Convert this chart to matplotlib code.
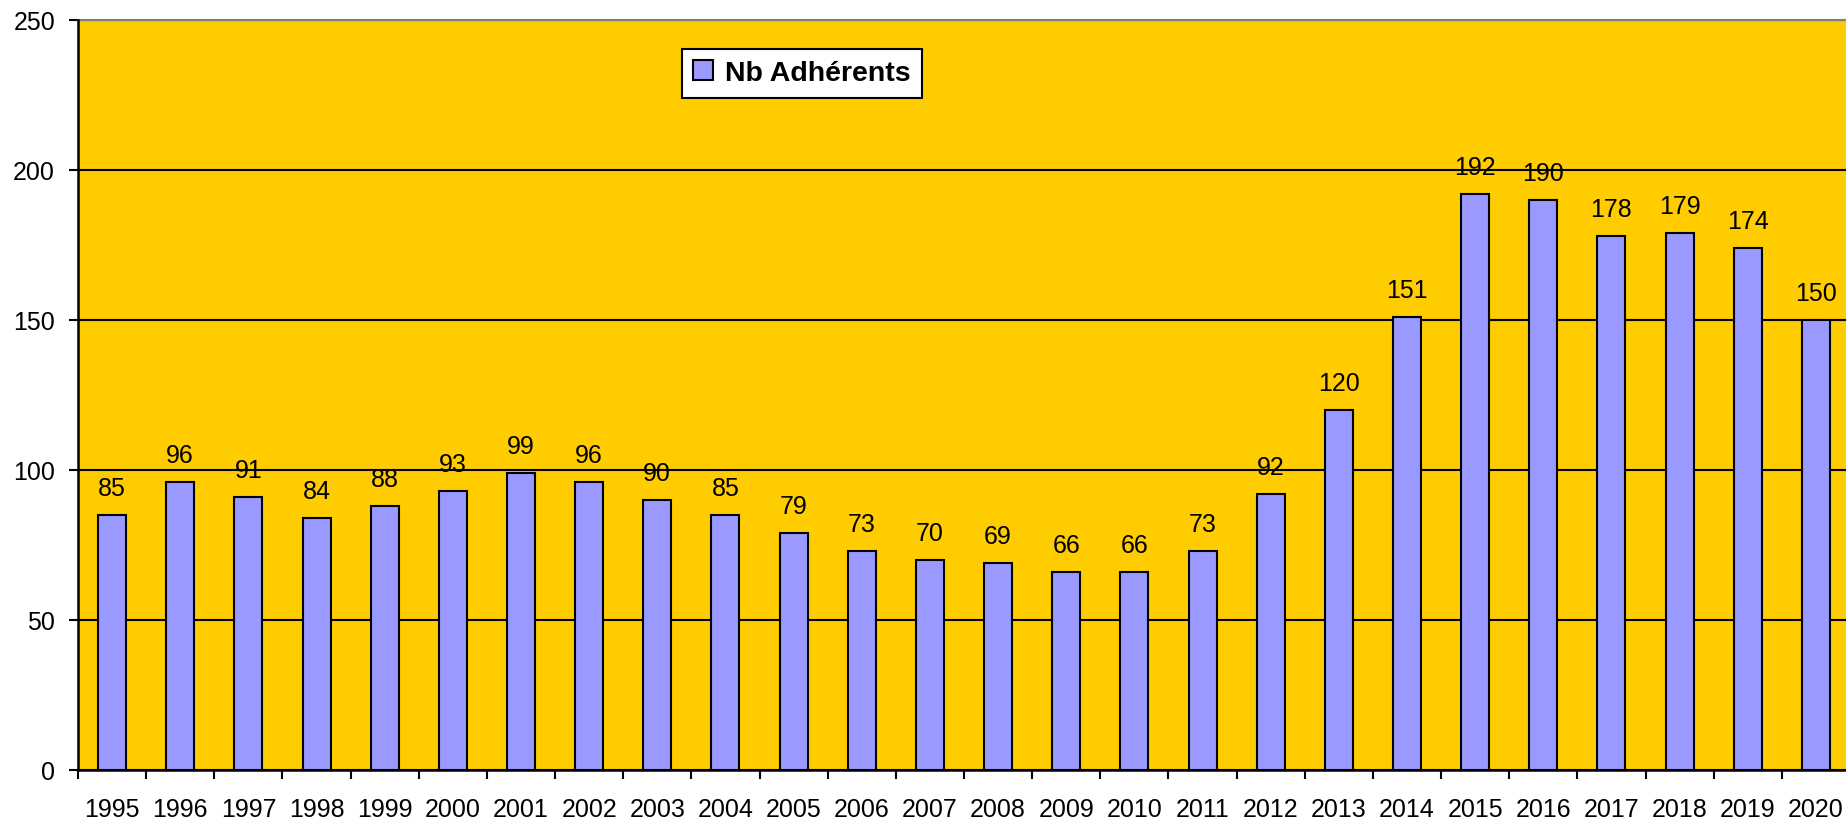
import matplotlib.pyplot as plt
from matplotlib.patches import Patch

plt.rcParams['font.family'] = ['Liberation Sans', 'DejaVu Sans']

# Données
annees = ['1995', '1996', '1997', '1998', '1999', '2000', '2001', '2002', '2003',
          '2004', '2005', '2006', '2007', '2008', '2009', '2010', '2011', '2012',
          '2013', '2014', '2015', '2016', '2017', '2018', '2019', '2020']
adherents = [85, 96, 91, 84, 88, 93, 99, 96, 90, 85, 79, 73, 70, 69, 66, 66, 73,
             92, 120, 151, 192, 190, 178, 179, 174, 150]
serie = 'Nb Adhérents'

W, H = 1846, 820
fig = plt.figure(figsize=(W / 100, H / 100), dpi=100)
ax = fig.add_axes([78 / W, 49 / H, 1772 / W, 750 / H])
ax.set_facecolor('#FFCC00')

x = list(range(len(annees)))
bars = ax.bar(x, adherents, width=0.41, color='#9999FF', edgecolor='black',
              linewidth=1.5, zorder=3)
ax.bar_label(bars, padding=10.5, fontsize=18)

ax.set_xlim(-0.5, len(annees) - 0.5)
ax.set_ylim(0, 250)
ax.set_yticks([0, 50, 100, 150, 200, 250])
ax.grid(axis='y', color='black', linewidth=1.5, zorder=1)

ax.set_xticks(x)
ax.set_xticklabels(annees)
ax.set_xticks([i - 0.5 for i in range(len(annees) + 1)], minor=True)
ax.tick_params(axis='x', which='major', length=0, pad=19.5, labelsize=18)
ax.tick_params(axis='x', which='minor', length=6.5, width=1.5, direction='out')
ax.tick_params(axis='y', length=6.5, width=1.5, pad=10, labelsize=18)

for s in ['left', 'bottom']:
    ax.spines[s].set_linewidth(1.8)
    ax.spines[s].set_zorder(4)
ax.spines['top'].set_color('#808080')
ax.spines['top'].set_linewidth(1.5)
ax.spines['right'].set_visible(False)

handle = Patch(facecolor='#9999FF', edgecolor='black', linewidth=1.5, label=serie)
leg = ax.legend(handles=[handle], loc='upper left',
                bbox_to_anchor=(682 / W, 1 - 50 / H), bbox_transform=fig.transFigure,
                borderaxespad=0, fancybox=False, framealpha=1, edgecolor='black',
                handlelength=0.7, handleheight=0.7, handletextpad=0.4,
                borderpad=0.4, prop={'weight': 'bold', 'size': 20.5})
leg.get_frame().set_linewidth(1.5)

fig.savefig('out.png', dpi=100)
